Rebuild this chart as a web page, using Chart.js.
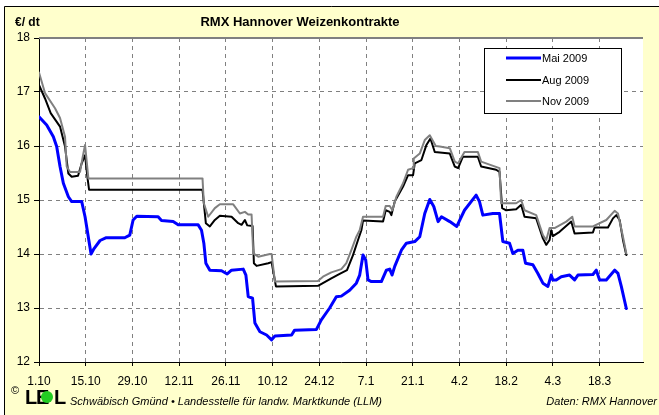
<!DOCTYPE html>
<html>
<head>
<meta charset="utf-8">
<script src="https://cdn.jsdelivr.net/npm/chart.js@4/dist/chart.umd.min.js"></script>
<style>
html,body{margin:0;padding:0;background:#fff;}
canvas{display:block;}
</style>
</head>
<body>
<canvas id="c" width="659" height="415"></canvas>
<script>
// Days counted from 1.10.2008
const tickDays = [0,14,28,42,56,70,84,98,112,126,140,154,168];
const tickLabels = ['1.10','15.10','29.10','12.11','26.11','10.12','24.12','7.1','21.1','4.2','18.2','4.3','18.3'];

const maiDays = [0,2.3,4.3,5.3,6.3,7.3,8.8,9.8,12.8,13.8,15.6,16.5,18.3,20,25.7,27.2,28.2,29.3,35.7,36.7,40.2,41.7,47.7,48.7,49.4,50,51.2,54.7,56.4,57.7,61.2,62,62.7,64,64.7,66.2,68.2,69.7,70.7,75.7,76.6,83.1,84.6,87.1,89.1,90.6,93.1,95.1,96.1,97.1,97.9,98.6,99.6,102.6,104.1,105.1,105.8,106.6,108.6,110.1,112.6,114.1,115.6,117.1,118.3,119.6,120.6,123.1,125.2,127.5,131,132,133,136,138,139,141,142,143.5,145,145.8,148,149.5,151,152.5,153.5,154,155,156.5,159,160.5,161.5,166,167,168,170,172.5,173.5,174.5,176];
const maiValues = [16.54,16.39,16.17,15.99,15.62,15.31,15.06,14.97,14.97,14.69,14.0,14.1,14.25,14.3,14.3,14.35,14.63,14.70,14.69,14.62,14.60,14.54,14.54,14.44,14.20,13.83,13.70,13.69,13.63,13.70,13.72,13.61,13.21,13.18,12.72,12.56,12.50,12.41,12.48,12.50,12.59,12.60,12.78,13.0,13.21,13.22,13.33,13.46,13.61,13.98,13.89,13.52,13.49,13.49,13.70,13.72,13.61,13.77,14.07,14.20,14.23,14.32,14.75,15.01,14.88,14.60,14.69,14.60,14.51,14.81,15.09,14.97,14.72,14.75,14.75,14.23,14.20,14.01,14.07,14.07,13.83,13.80,13.64,13.46,13.40,13.61,13.52,13.52,13.58,13.61,13.52,13.61,13.62,13.70,13.52,13.52,13.70,13.64,13.40,12.99];

const augDays = [0,1.8,3.5,6.3,7.8,8.8,9.8,11.7,12.8,13.8,14.5,15,49,50,51.2,52.7,54.2,57.7,59.7,60.7,61.7,62.4,64,64.4,65.2,68.7,69.7,71,83.6,87.6,90.1,92.3,94.1,95.6,96.6,97.1,103.1,103.9,105.1,105.6,106.6,109.1,110.6,112.1,112.6,114.6,116.1,117.3,118.6,123.1,124.6,125.6,127,131.5,132.5,137,138,138.8,140,143,144.5,145.5,149,151,152,153,153.5,154,156,159.5,160.5,166,166.5,170.5,172,173,174,175,176];
const augValues = [17.13,16.88,16.61,16.36,15.99,15.49,15.43,15.45,15.68,15.83,15.43,15.19,15.19,14.57,14.51,14.63,14.71,14.69,14.57,14.54,14.63,14.53,14.52,13.83,13.78,13.83,13.85,13.40,13.41,13.55,13.63,13.70,13.98,14.26,14.44,14.62,14.60,14.81,14.78,14.72,14.97,15.25,15.46,15.46,15.68,15.74,16.02,16.14,15.89,15.86,15.62,15.59,15.80,15.80,15.62,15.56,15.52,14.85,14.81,14.83,14.91,14.69,14.66,14.29,14.17,14.26,14.44,14.33,14.41,14.60,14.38,14.40,14.49,14.49,14.66,14.72,14.63,14.26,13.98];

const novDays = [0,1.8,4.8,6.3,7.8,8.3,9.3,12.3,13.1,13.8,14.8,49,49.4,50.7,52.7,54.2,58.2,60.2,61.7,62.7,63.7,64.2,65.7,69.2,69.7,70.7,83.6,85.1,87.6,90.6,92.1,93.6,95.1,96.1,97.1,103.1,103.9,105.1,105.9,107.1,109.1,110.6,112.1,112.3,114.1,115.6,117.1,118.9,120.1,123.1,124.6,125.6,127.5,131.5,132.5,138,138.5,140.5,143,144.5,145.5,149,151,152,153,154.5,158,159.8,160.5,166,170,172.5,173.5,175,176];
const novValues = [17.36,16.98,16.70,16.52,16.17,15.62,15.52,15.52,15.80,16.02,15.40,15.40,14.94,14.69,14.85,14.92,14.92,14.75,14.78,14.73,14.73,14.01,13.95,14.0,14.0,13.49,13.50,13.58,13.66,13.72,13.83,14.07,14.32,14.44,14.69,14.69,14.89,14.89,14.81,15.06,15.31,15.56,15.59,15.77,15.86,16.11,16.20,16.0,15.99,15.96,15.71,15.68,15.89,15.89,15.71,15.59,14.94,14.94,14.94,15.0,14.81,14.72,14.35,14.26,14.48,14.48,14.60,14.69,14.51,14.51,14.63,14.80,14.75,14.32,14.01];

const seriesNames = ['Mai 2009','Aug 2009','Nov 2009'];

function pts(d, v){ return d.map((x,i)=>({x:x, y:v[i]})); }

const FONT = '"Liberation Sans", Arial, sans-serif';

const decor = {
  id:'decor',
  beforeDraw(chart){
    const ctx = chart.ctx;
    ctx.save();
    ctx.fillStyle = '#ffffff';
    ctx.fillRect(0,0,chart.width,chart.height);
    ctx.fillStyle = '#FFFFCC';
    ctx.fillRect(4,6,chart.width-4,chart.height-6);
    ctx.strokeStyle = '#000';
    ctx.lineWidth = 1;
    ctx.beginPath();
    ctx.moveTo(4.5,chart.height); ctx.lineTo(4.5,6.5); ctx.lineTo(chart.width,6.5);
    ctx.stroke();
    const a = chart.chartArea;
    ctx.fillStyle = '#ffffff';
    ctx.fillRect(a.left,a.top,a.right-a.left,a.bottom-a.top);
    // texts
    ctx.fillStyle = '#000';
    ctx.textBaseline = 'middle';
    ctx.font = 'bold 12px ' + FONT;
    ctx.textAlign = 'left';
    ctx.fillText('€/ dt', 15, 23);
    ctx.font = 'bold 13px ' + FONT;
    ctx.textAlign = 'center';
    ctx.fillText('RMX Hannover Weizenkontrakte', 300, 22);
    // footer
    ctx.textAlign = 'left';
    ctx.font = '11px ' + FONT;
    ctx.fillText('©', 11, 391);
    ctx.font = 'bold 20px ' + FONT;
    ctx.fillText('L', 25, 398);
    ctx.fillText('E', 36, 398);
    ctx.fillText('L', 54, 398);
    ctx.fillStyle = '#22cc22';
    ctx.beginPath(); ctx.arc(47, 397, 6, 0, Math.PI*2); ctx.fill();
    ctx.fillStyle = '#000';
    ctx.font = 'italic 11px ' + FONT;
    ctx.fillText('Schwäbisch Gmünd • Landesstelle für landw. Marktkunde (LLM)', 70, 402, 325);
    ctx.textAlign = 'right';
    ctx.fillText('Daten: RMX Hannover', 657, 402, 114);
    ctx.restore();
  },
  beforeDatasetsDraw(chart){
    const ctx = chart.ctx, a = chart.chartArea;
    ctx.save();
    ctx.strokeStyle = '#808080';
    ctx.lineWidth = 2;
    ctx.beginPath();
    ctx.moveTo(a.left, a.top); ctx.lineTo(a.right, a.top);
    ctx.stroke();
    ctx.restore();
  },
  afterDatasetsDraw(chart){
    const ctx = chart.ctx;
    ctx.save();
    // legend box
    const bx=484.5, by=48.5, bw=137, bh=65;
    ctx.fillStyle='#fff';
    ctx.fillRect(bx,by,bw,bh);
    ctx.strokeStyle='#000'; ctx.lineWidth=1;
    ctx.strokeRect(bx,by,bw,bh);
    const ys=[58,80,101];
    chart.data.datasets.forEach((ds,i)=>{
      ctx.strokeStyle = ds.borderColor;
      ctx.lineWidth = ds.borderWidth;
      ctx.beginPath(); ctx.moveTo(506, ys[i]); ctx.lineTo(541, ys[i]); ctx.stroke();
      ctx.fillStyle='#000';
      ctx.font='11px ' + FONT;
      ctx.textAlign='left'; ctx.textBaseline='middle';
      ctx.fillText(ds.label, 542, ys[i]+1);
    });
    ctx.restore();
  }
};

new Chart(document.getElementById('c'), {
  type:'line',
  data:{
    datasets:[
      {label:seriesNames[0], data:pts(maiDays,maiValues), borderColor:'#0000FF', borderWidth:3, order:1},
      {label:seriesNames[1], data:pts(augDays,augValues), borderColor:'#000000', borderWidth:2, order:3},
      {label:seriesNames[2], data:pts(novDays,novValues), borderColor:'#808080', borderWidth:2, order:2}
    ]
  },
  options:{
    responsive:false,
    animation:false,
    devicePixelRatio:1,
    layout:{padding:{left:0, top:38, right:16, bottom:0}},
    elements:{point:{radius:0}, line:{tension:0, borderJoinStyle:'round', borderCapStyle:'round'}},
    plugins:{legend:{display:false}, title:{display:false}, tooltip:{enabled:false}},
    scales:{
      x:{
        type:'linear', min:0, max:181,
        afterFit(s){ s.height = 53; },
        afterBuildTicks(s){ s.ticks = tickDays.map(v=>({value:v})); },
        grid:{color:'#808080', lineWidth:1, tickLength:4, tickColor:'#000', drawTicks:true},
        border:{color:'#000', width:1, dash:[4,4]},
        ticks:{
          autoSkip:false, maxRotation:0, padding:8, color:'#000',
          font:{family:FONT, size:12},
          callback:(v)=>{ const i = tickDays.indexOf(v); return i>=0 ? tickLabels[i] : ''; }
        }
      },
      y:{
        min:12, max:18,
        afterFit(s){ s.width = 39; },
        grid:{color:'#808080', lineWidth:1, tickLength:5, tickColor:'#000'},
        border:{color:'#000', width:1, dash:[4,4]},
        ticks:{stepSize:1, padding:4, color:'#000', font:{family:FONT, size:12}}
      }
    }
  },
  plugins:[decor]
});
</script>
</body>
</html>
